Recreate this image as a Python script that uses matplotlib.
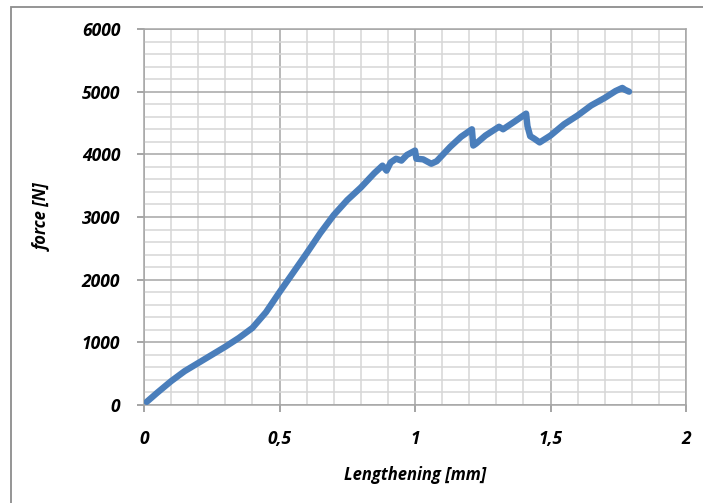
import matplotlib
matplotlib.use("Agg")
import matplotlib.pyplot as plt
from matplotlib.patches import Rectangle
from matplotlib.ticker import MultipleLocator, FuncFormatter

# lengthening [mm] and force [N]
lengthening = [0.01, 0.05, 0.10, 0.15, 0.20, 0.25, 0.30, 0.35, 0.40, 0.45,
               0.50, 0.55, 0.60, 0.65, 0.70, 0.75, 0.80, 0.85, 0.88, 0.895,
               0.91, 0.93, 0.95, 0.97, 1.00, 1.005, 1.03, 1.06, 1.08, 1.13,
               1.17, 1.21, 1.215, 1.225, 1.26, 1.31, 1.325, 1.37, 1.41, 1.415,
               1.425, 1.44, 1.46, 1.50, 1.55, 1.60, 1.65, 1.70, 1.74, 1.765,
               1.775, 1.79]
force = [50, 200, 380, 540, 670, 800, 930, 1070, 1230, 1480,
         1800, 2110, 2420, 2740, 3030, 3270, 3470, 3700, 3820, 3740,
         3870, 3930, 3900, 3990, 4060, 3930, 3920, 3850, 3890, 4120,
         4280, 4400, 4140, 4170, 4300, 4440, 4400, 4530, 4650, 4450,
         4290, 4250, 4190, 4300, 4480, 4620, 4780, 4900, 5010, 5060,
         5030, 5000]

FONT = dict(family="Open Sans", weight="bold", style="italic")
BLUE = "#4a7ebb"

fig = plt.figure(figsize=(7.03, 5.03), dpi=100)
# outer chart frame (only left/top edges fall inside the image)
fig.patches.append(Rectangle((11 / 703, -0.1), 1.2, 1 - 7 / 503 + 0.1,
                             transform=fig.transFigure, fill=False,
                             edgecolor="#8c8c8c", lw=1.3))
ax = fig.add_axes([144 / 703, 1 - 405 / 503, 542 / 703, 376 / 503])

ax.plot(lengthening, force, color=BLUE, lw=4.6,
        solid_capstyle="round", solid_joinstyle="round", zorder=3)

ax.set_xlim(0, 2)
ax.set_ylim(0, 6000)
ax.xaxis.set_major_locator(MultipleLocator(0.5))
ax.xaxis.set_minor_locator(MultipleLocator(0.1))
ax.yaxis.set_major_locator(MultipleLocator(1000))
ax.yaxis.set_minor_locator(MultipleLocator(200))
ax.xaxis.set_major_formatter(FuncFormatter(
    lambda v, p: f"{v:g}".replace(".", ",")))
ax.grid(which="minor", color="#d6d6d6", lw=1.1)
ax.grid(which="major", color="#a6a6a6", lw=1.1)
ax.set_axisbelow(True)

for s in ax.spines.values():
    s.set_color("#a6a6a6")
    s.set_linewidth(1.1)
ax.tick_params(which="major", length=5, color="#8c8c8c", width=1.1)
ax.tick_params(which="minor", length=0)
ax.tick_params(axis="y", pad=12)
ax.tick_params(axis="x", pad=13)
for lab in ax.get_xticklabels() + ax.get_yticklabels():
    lab.set(fontsize=12.5, **FONT)

ax.set_xlabel("Lengthening [mm]", fontsize=12, labelpad=13, **FONT)
ax.set_ylabel("force [N]", fontsize=12, labelpad=22, **FONT)

fig.savefig("out.png", dpi=100)
